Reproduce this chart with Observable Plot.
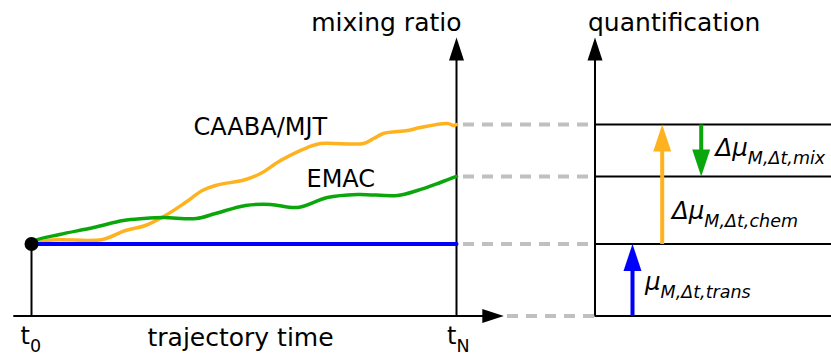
<!DOCTYPE html>
<html><head><meta charset="utf-8">
<script src="https://cdn.jsdelivr.net/npm/d3@7"></script>
<script src="https://cdn.jsdelivr.net/npm/@observablehq/plot@0.6"></script>
<style>body{margin:0;background:#fff}</style>
</head><body><div id="chart"></div>
<script>
// ---- data (trajectory time normalised t0=0 … tN=1, mixing ratio in arbitrary units) ----
const timeCaaba = [0, 0.049, 0.167, 0.221, 0.268, 0.315, 0.362, 0.402, 0.433, 0.504, 0.539, 0.586, 0.649, 0.680, 0.781, 0.805, 0.828, 0.885, 0.915, 0.979, 0.993, 1.0];
const mrCaaba   = [1.0, 1.056, 1.063, 1.188, 1.257, 1.396, 1.576, 1.743, 1.813, 1.896, 1.979, 2.160, 2.340, 2.396, 2.396, 2.465, 2.535, 2.576, 2.618, 2.674, 2.646, 2.66];
const timeEmac  = [0, 0.009, 0.066, 0.146, 0.216, 0.264, 0.311, 0.388, 0.433, 0.504, 0.562, 0.626, 0.696, 0.767, 0.861, 0.908, 0.962, 1.0];
const mrEmac    = [1.0, 1.049, 1.132, 1.229, 1.326, 1.354, 1.368, 1.354, 1.424, 1.535, 1.549, 1.507, 1.646, 1.688, 1.674, 1.743, 1.854, 1.938];
const timeTrans = [0, 1];
const mrTrans   = [1.0, 1.0];
const seriesNames = ["CAABA/MJT", "EMAC"];
const tickLabels  = ["t_0", "t_N"];
const axisTitles  = ["trajectory time", "mixing ratio", "quantification"];
const quantLabels = ["μ_M,Δt,trans", "Δμ_M,Δt,chem", "Δμ_M,Δt,mix"];

// ---- derived levels ----
const lvTrans = mrTrans[mrTrans.length - 1];
const lvCaaba = mrCaaba[mrCaaba.length - 1];
const lvEmac  = mrEmac[mrEmac.length - 1];

// ---- layout (scale units) ----
const PX = 425, PY = 72;             // pixels per unit
const X0 = -31 / PX, X1 = 800 / PX;
const Y0 = -39.5 / PY, Y1 = 315.5 / PY;
const qAxis = 563.5 / PX;            // quantification axis
const xAxisStart = -17.7 / PX;
const xTip = 472.3 / PX;
const yTip = 278.5 / PY;
const dashStart = 432 / PX, dashStartBottom = 476 / PX;
const arrowX = [601 / PX, 630.7 / PX, 669.7 / PX];
const headH = 26 / PY;

const col = {caaba: "#ffb21f", emac: "#0ba60b", trans: "#0000ff", gray: "#c0c0c0"};
const FONT = "DejaVu Sans";

const tri = (w, h) => ({draw(ctx) { ctx.moveTo(0, 0); ctx.lineTo(w / 2, h); ctx.lineTo(-w / 2, h); ctx.closePath(); }});
const axisHead = tri(15, 23);
const xHead = tri(14, 21.5);
const arrHead = tri(18, 27);

const caaba = timeCaaba.map((t, i) => ({t, v: mrCaaba[i]}));
const emac = timeEmac.map((t, i) => ({t, v: mrEmac[i]}));
const trans = timeTrans.map((t, i) => ({t, v: mrTrans[i]}));

const arrows = [
  {x: arrowX[0], from: 0, to: lvTrans, c: col.trans},
  {x: arrowX[1], from: lvTrans, to: lvCaaba, c: col.caaba},
  {x: arrowX[2], from: lvCaaba, to: lvEmac, c: col.emac}
].map(a => ({...a, shaftEnd: a.to + (a.to > a.from ? -headH : headH), rot: a.to > a.from ? 0 : 180}));

const svg = Plot.plot({
  width: 831, height: 355,
  margin: 0,
  x: {domain: [X0, X1], axis: null},
  y: {domain: [Y0, Y1], axis: null},
  style: {background: "#fff"},
  marks: [
    // dashed guides
    Plot.ruleY([lvTrans, lvEmac, lvCaaba], {x1: dashStart, x2: qAxis, stroke: col.gray, strokeWidth: 4, strokeDasharray: "11,8"}),
    Plot.ruleY([0], {x1: dashStartBottom, x2: qAxis, stroke: col.gray, strokeWidth: 4, strokeDasharray: "11,8"}),
    // axes
    Plot.ruleY([0], {x1: xAxisStart, x2: xTip - 20 / PX, stroke: "black", strokeWidth: 2}),
    Plot.ruleX([1, qAxis], {y1: 0, y2: yTip - 21 / PY, stroke: "black", strokeWidth: 2}),
    Plot.ruleX([0], {y1: 0, y2: lvTrans, stroke: "black", strokeWidth: 2}),
    Plot.dot([{x: 1}, {x: qAxis}], {x: "x", y: () => yTip, symbol: axisHead, fill: "black", stroke: "none", r: 5}),
    Plot.dot([{x: xTip}], {x: "x", y: () => 0, symbol: xHead, rotate: 90, fill: "black", stroke: "none", r: 5}),
    // quantification levels
    Plot.ruleY([0, lvTrans, lvEmac, lvCaaba], {x1: qAxis, x2: X1, stroke: "black", strokeWidth: 2}),
    // curves
    Plot.line(caaba, {x: "t", y: "v", stroke: col.caaba, strokeWidth: 3.5, curve: "catmull-rom"}),
    Plot.line(emac, {x: "t", y: "v", stroke: col.emac, strokeWidth: 3.5, curve: "catmull-rom"}),
    Plot.line(trans, {x: "t", y: "v", stroke: col.trans, strokeWidth: 4}),
    Plot.dot([trans[0]], {x: "t", y: "v", r: 7, fill: "black", stroke: "none"}),
    // quantification arrows
    Plot.link(arrows, {x1: "x", x2: "x", y1: "from", y2: "shaftEnd", stroke: "c", strokeWidth: 4}),
    Plot.dot(arrows, {x: "x", y: "to", symbol: arrHead, rotate: "rot", fill: "c", stroke: "none", r: 5}),
    // texts
    Plot.text([axisTitles[1]], {x: () => 430 / PX, y: () => 293.5 / PY, text: d => d, textAnchor: "end", fontSize: 25, fontFamily: FONT, fill: "black"}),
    Plot.text([axisTitles[2]], {x: () => 556.5 / PX, y: () => 293.5 / PY, text: d => d, textAnchor: "start", fontSize: 25, fontFamily: FONT, fill: "black"}),
    Plot.text([axisTitles[0]], {x: () => 116 / PX, y: () => -21.5 / PY, text: d => d, textAnchor: "start", fontSize: 25, fontFamily: FONT, fill: "black"}),
    Plot.text(tickLabels, {x: (d, i) => [-11 / PX, 415.5 / PX][i], y: () => -20 / PY, text: d => d, textAnchor: "start", fontSize: 24, fontFamily: FONT, fill: "black"}),
    Plot.text(seriesNames, {x: (d, i) => [162 / PX, 275 / PX][i], y: (d, i) => [188.2 / PY, 136.2 / PY][i], text: d => d, textAnchor: "start", fontSize: 24, fontFamily: FONT, fill: "black"}),
    Plot.text(quantLabels, {x: (d, i) => [613.5 / PX, 640.5 / PX, 684 / PX][i], y: (d, i) => [34.2 / PY, 105.2 / PY, 168.2 / PY][i], text: d => d, textAnchor: "start", fontSize: 24.5, fontFamily: FONT, fontStyle: "italic", fill: "black"})
  ]
});

// render "a_b" as a with subscript b
svg.querySelectorAll("text").forEach(t => {
  const s = t.textContent;
  const i = s.indexOf("_");
  if (i < 0) return;
  t.textContent = s.slice(0, i);
  const sp = document.createElementNS("http://www.w3.org/2000/svg", "tspan");
  sp.setAttribute("font-size", 17.5);
  sp.setAttribute("dy", 8);
  sp.textContent = s.slice(i + 1);
  t.appendChild(sp);
});
document.getElementById("chart").appendChild(svg);
</script>
</body></html>
